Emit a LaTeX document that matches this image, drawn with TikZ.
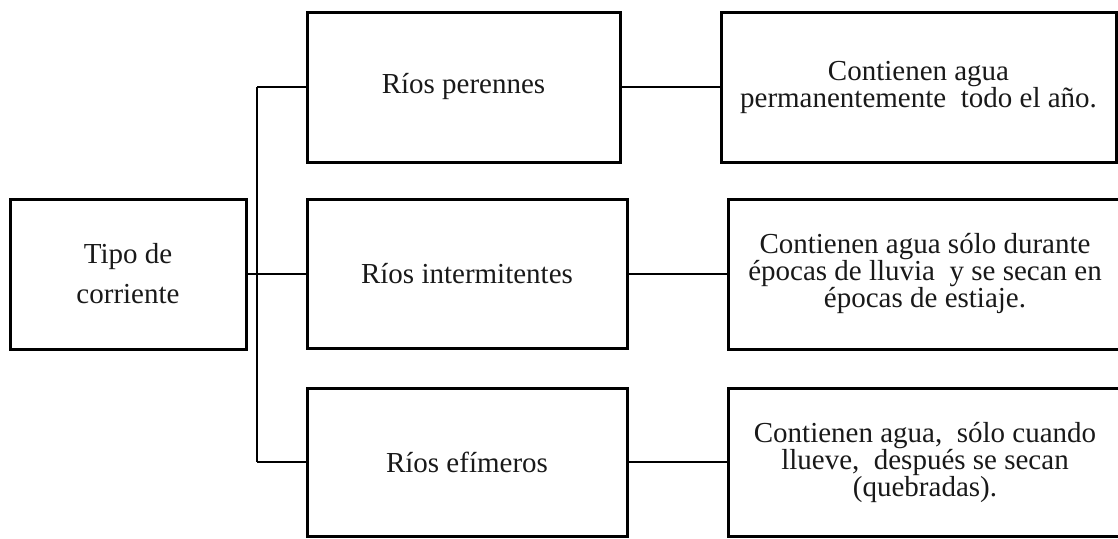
\documentclass[tikz,border=0pt]{standalone}
\usepackage{fontspec}
\setmainfont{Liberation Serif}
\begin{document}
\begin{tikzpicture}[x=1pt,y=-1pt,
  box/.style={draw=black, line width=3pt, rectangle, inner sep=0pt, align=center,
    font=\fontsize{29}{27}\selectfont, text=black!90},
  link/.style={draw=black, line width=2.6pt}]
\useasboundingbox (0,0) rectangle (1118,538);
\clip (0,0) rectangle (1118,538);
% left
\node[box, minimum width=236pt, minimum height=150pt, font=\fontsize{29}{40}\selectfont] (tipo) at (128,274) {Tipo de\\corriente};
% middle column
\node[box, minimum width=313pt, minimum height=150pt] (per) at (463.5,87) {Ríos perennes};
\node[box, minimum width=320pt, minimum height=149pt] (int) at (467,273.5) {Ríos intermitentes};
\node[box, minimum width=320pt, minimum height=148pt] (efi) at (467,462) {Ríos efímeros};
% right column
\node[box, minimum width=395pt, minimum height=150pt] (dper) at (918.5,87) {Contienen agua\\permanentemente\ \ todo el año.};
\node[box, minimum width=394pt, minimum height=150pt] (dint) at (925,274) {Contienen agua sólo durante\\épocas de lluvia\ \ y se secan en\\épocas de estiaje.};
\node[box, minimum width=394pt, minimum height=148pt] (defi) at (925,462) {Contienen agua,\ \ sólo cuando\\llueve,\ \ después se secan\\(quebradas).};
% trunk
\coordinate (tj) at (257,274);
\coordinate (tt) at (257,87);
\coordinate (tb) at (257,462);
\draw[link] (tipo.east |- tj) -- (tj);
\draw[link] (tt) -- (tb);
\draw[link] (tt) -- (per.west |- tt);
\draw[link] (tj) -- (int.west |- tj);
\draw[link] (tb) -- (efi.west |- tb);
% right links
\draw[link] (per.east) -- (dper.west);
\draw[link] (int.east |- dint.west) -- (dint.west);
\draw[link] (efi.east) -- (defi.west);
\end{tikzpicture}
\end{document}
